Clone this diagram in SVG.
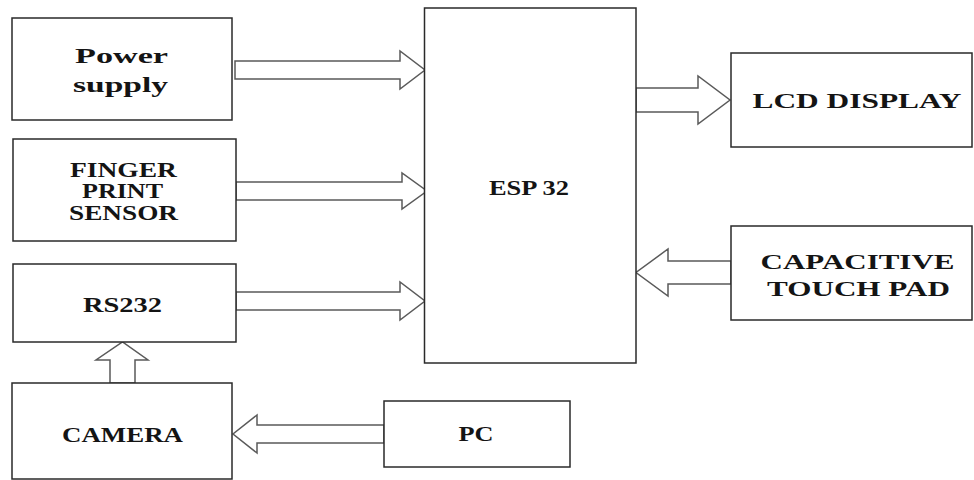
<svg xmlns="http://www.w3.org/2000/svg" width="974" height="480" viewBox="0 0 974 480">
<style>
.box{fill:#fff;stroke:#2a2a2a;stroke-width:1.5}
.arr{fill:#fff;stroke:#5a5a5a;stroke-width:1.5;stroke-linejoin:miter}
.t{font-family:"Liberation Serif","Times New Roman",serif;font-weight:bold;fill:#141414;text-anchor:middle}
</style>
<rect width="974" height="480" fill="#fff"/>
<g id="connectors">
<polygon class="arr" points="235,61 400,61 400,51 425,70 400,89 400,79 235,79"/>
<polygon class="arr" points="236,182 402,182 402,173 427,191 402,209 402,200 236,200"/>
<polygon class="arr" points="236,292 400,292 400,282 425,301 400,320 400,310 236,310"/>
<polygon class="arr" points="636,88 698,88 698,76 730,100 698,124 698,112 636,112"/>
<polygon class="arr" points="731,261 668,261 668,249 636,272.5 668,296 668,284 731,284"/>
<polygon class="arr" points="384,425 257,425 257,415 233,434 257,453 257,443 384,443"/>
<polygon class="arr" points="110,383 110,360 96,360 122.5,342 148,360 135,360 135,383"/>
</g>
<g id="power">
<rect class="box" x="12" y="18" width="220" height="102"/>
<text class="t" x="121.5" y="63" font-size="22" textLength="93" lengthAdjust="spacingAndGlyphs">Power</text>
<text class="t" x="120.5" y="92" font-size="22" textLength="95" lengthAdjust="spacingAndGlyphs">supply</text>
</g>
<g id="finger">
<rect class="box" x="13" y="139" width="223" height="102"/>
<text class="t" x="123.5" y="177" font-size="20" textLength="107" lengthAdjust="spacingAndGlyphs">FINGER</text>
<text class="t" x="122.5" y="198" font-size="20" textLength="81" lengthAdjust="spacingAndGlyphs">PRINT</text>
<text class="t" x="123.5" y="220" font-size="20" textLength="109" lengthAdjust="spacingAndGlyphs">SENSOR</text>
</g>
<g id="rs232">
<rect class="box" x="13" y="264" width="223" height="78"/>
<text class="t" x="122.5" y="312" font-size="20" textLength="79" lengthAdjust="spacingAndGlyphs">RS232</text>
</g>
<g id="camera">
<rect class="box" x="12" y="383" width="220" height="96"/>
<text class="t" x="122.5" y="442" font-size="21" textLength="121" lengthAdjust="spacingAndGlyphs">CAMERA</text>
</g>
<g id="pc">
<rect class="box" x="384" y="401" width="186" height="66"/>
<text class="t" x="476" y="441" font-size="21" textLength="35" lengthAdjust="spacingAndGlyphs">PC</text>
</g>
<g id="esp32">
<rect class="box" x="424.5" y="8" width="211.5" height="355"/>
<text class="t" x="529" y="195" font-size="20" textLength="80" lengthAdjust="spacingAndGlyphs">ESP 32</text>
</g>
<g id="lcd">
<rect class="box" x="731" y="53" width="241" height="94"/>
<text class="t" x="857" y="108" font-size="21" textLength="209" lengthAdjust="spacingAndGlyphs">LCD DISPLAY</text>
</g>
<g id="touch">
<rect class="box" x="731" y="226" width="241" height="94"/>
<text class="t" x="857.5" y="269" font-size="21" textLength="194" lengthAdjust="spacingAndGlyphs">CAPACITIVE</text>
<text class="t" x="858.5" y="296" font-size="21" textLength="183" lengthAdjust="spacingAndGlyphs">TOUCH PAD</text>
</g>
</svg>
